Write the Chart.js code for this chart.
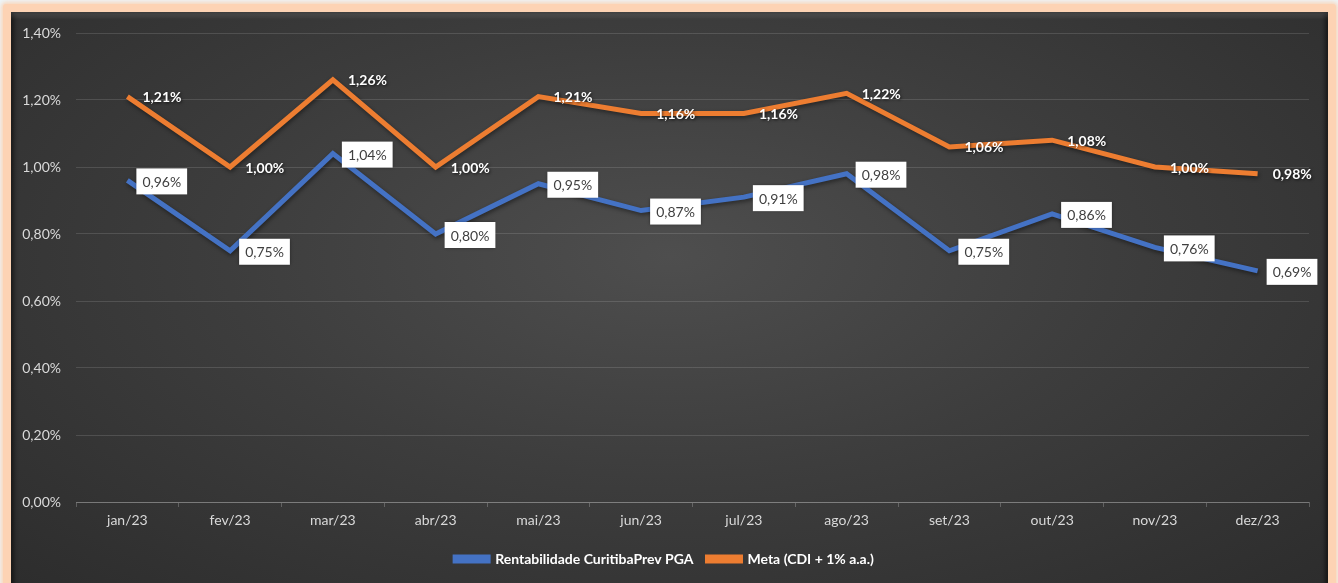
<!DOCTYPE html>
<html>
<head>
<meta charset="utf-8">
<script src="https://cdn.jsdelivr.net/npm/chart.js@4"></script>
<style>
    html, body {
        margin: 0;
        padding: 0;
        background: #eef6f9;
        width: 1338px;
        height: 583px;
        overflow: hidden;
    }

    #frame {
        position: absolute;
        left: 3px;
        top: 4px;
        width: 1333px;
        height: 620px;
        background: #fdd3b4;
        border-radius: 3px;
        box-shadow: 0 0 4px 2px rgba(253, 200, 160, 0.7);
    }

    #panel {
        position: absolute;
        left: 11px;
        top: 12px;
        width: 1317px;
        height: 610px;
        background: radial-gradient(ellipse 75% 80% at 50% 40%, #4e4e4e 0%, #3d3d3d 45%, #2b2b2b 100%);
        box-shadow: inset 0 7px 5px -3px rgba(255, 255, 255, 0.14), inset 3px 0 4px rgba(0, 0, 0, 0.5), inset -3px 0 4px rgba(0, 0, 0, 0.5);
    }

    #wrap {
        position: absolute;
        left: 0;
        top: 0;
        width: 1338px;
        height: 583px;
    }
</style>
</head>
<body>

<div id="frame"></div>
<div id="panel"></div>

<div id="wrap">
    <canvas id="lineChart"></canvas>
</div>

<script>

// DATA
const months = [
    'jan/23', 'fev/23', 'mar/23', 'abr/23', 'mai/23', 'jun/23',
    'jul/23', 'ago/23', 'set/23', 'out/23', 'nov/23', 'dez/23'
];

const rentabilidade = [0.96, 0.75, 1.04, 0.80, 0.95, 0.87, 0.91, 0.98, 0.75, 0.86, 0.76, 0.69];

const meta = [1.21, 1.00, 1.26, 1.00, 1.21, 1.16, 1.16, 1.22, 1.06, 1.08, 1.00, 0.98];

const seriesNames = ['Rentabilidade CuritibaPrev PGA', 'Meta (CDI + 1% a.a.)'];

const yTicks = [0, 0.2, 0.4, 0.6, 0.8, 1.0, 1.2, 1.4];

const FONT = 'Lato, "Open Sans", sans-serif';

function pct(v) {
    return v.toFixed(2).replace('.', ',') + '%';
}

// line shadow
const lineShadow = {
    id: 'lineShadow',
    beforeDatasetDraw(chart) {
        const ctx = chart.ctx;
        ctx.save();
        ctx.shadowColor = 'rgba(0,0,0,0.45)';
        ctx.shadowBlur = 4;
        ctx.shadowOffsetX = 1;
        ctx.shadowOffsetY = 2;
    },
    afterDatasetDraw(chart) {
        chart.ctx.restore();
    }
};

// value labels
const valueLabels = {
    id: 'valueLabels',
    afterDatasetsDraw(chart) {

        const ctx = chart.ctx;

        chart.data.datasets.forEach((ds, i) => {

            const metaInfo = chart.getDatasetMeta(i);

            metaInfo.data.forEach((pt, j) => {

                const text = pct(ds.data[j]);

                ctx.save();
                ctx.textBaseline = 'middle';
                ctx.textAlign = 'left';

                if (i === 0) {
                    ctx.font = '14px ' + FONT;
                    const w = ctx.measureText(text).width + 12;
                    const x = pt.x + 9;
                    const y = pt.y + 1;
                    ctx.shadowColor = 'rgba(0,0,0,0.4)';
                    ctx.shadowBlur = 3;
                    ctx.fillStyle = '#ffffff';
                    ctx.fillRect(x, y - 13, w, 26);
                    ctx.shadowColor = 'transparent';
                    ctx.fillStyle = '#404040';
                    ctx.fillText(text, x + 6, y + 1);
                } else {
                    ctx.font = 'bold 14px ' + FONT;
                    ctx.shadowColor = 'rgba(0,0,0,0.7)';
                    ctx.shadowBlur = 3;
                    ctx.shadowOffsetX = 1;
                    ctx.shadowOffsetY = 1;
                    ctx.fillStyle = '#ffffff';
                    ctx.fillText(text, pt.x + 15, pt.y + 1);
                }

                ctx.restore();
            });
        });
    }
};

const chartCtx = document.getElementById('lineChart').getContext('2d');

new Chart(chartCtx, {

    type: 'line',

    data: {
        labels: months,
        datasets: [
            {
                label: seriesNames[0],
                data: rentabilidade,
                borderColor: '#4472c4',
                backgroundColor: '#4472c4',
                borderWidth: 5,
                pointRadius: 0,
                tension: 0
            },
            {
                label: seriesNames[1],
                data: meta,
                borderColor: '#ed7d31',
                backgroundColor: '#ed7d31',
                borderWidth: 5,
                pointRadius: 0,
                tension: 0
            }
        ]
    },

    options: {

        responsive: true,
        maintainAspectRatio: false,
        animation: false,

        layout: {
            padding: { left: 20, right: 29, top: 33, bottom: 7 }
        },

        plugins: {
            legend: {
                display: true,
                position: 'bottom',
                labels: {
                    color: '#ffffff',
                    boxWidth: 33,
                    boxHeight: 4,
                    padding: 14,
                    font: { family: FONT, size: 14, weight: 'bold' }
                }
            },
            tooltip: { enabled: false },
            title: { display: false }
        },

        scales: {
            x: {
                offset: true,
                grid: {
                    offset: true,
                    drawOnChartArea: false,
                    drawTicks: true,
                    tickLength: 5,
                    color: 'rgba(255,255,255,0.22)'
                },
                border: {
                    display: true,
                    color: 'rgba(255,255,255,0.25)',
                    width: 1
                },
                ticks: {
                    color: '#d9d9d9',
                    padding: 5,
                    font: { family: FONT, size: 14 }
                },
                afterFit(scale) {
                    scale.height = 36;
                }
            },
            y: {
                min: 0,
                max: 1.4,
                afterBuildTicks(scale) {
                    scale.ticks = yTicks.map(v => ({ value: v }));
                },
                grid: {
                    drawTicks: false,
                    color: 'rgba(255,255,255,0.13)'
                },
                border: { display: false },
                ticks: {
                    color: '#d9d9d9',
                    padding: 15,
                    font: { family: FONT, size: 14 },
                    callback: (v) => pct(v)
                },
                afterFit(scale) {
                    scale.width = 56;
                }
            }
        }
    },

    plugins: [lineShadow, valueLabels]
});

</script>
</body>
</html>
